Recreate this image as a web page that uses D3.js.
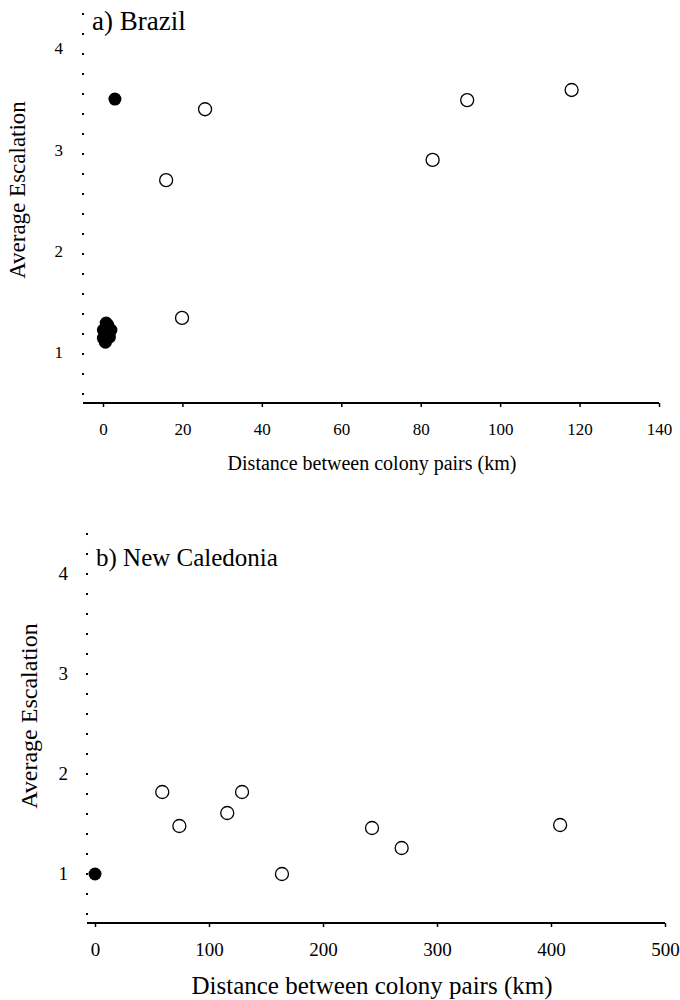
<!DOCTYPE html>
<html><head><meta charset="utf-8">
<script src="https://cdn.jsdelivr.net/npm/d3@7"></script>
<style>body{margin:0;background:#fff}svg{display:block}text{font-family:"Liberation Serif","DejaVu Serif",serif;fill:#000}</style>
</head><body><svg id="c" width="680" height="1000"></svg>
<script>
// Panel a: Brazil
const brazilSameDist = [3, 0.8, 0.1, 2.0, 0.1, 1.6, 0.6, 1.0, 1.2];
const brazilSameVal  = [3.5, 1.29, 1.22, 1.22, 1.14, 1.15, 1.1, 1.2, 1.27];
const brazilDiffDist = [25.7, 15.9, 83, 91.7, 118, 19.9];
const brazilDiffVal  = [3.4, 2.7, 2.9, 3.49, 3.59, 1.34];
const brazilXTicks = [0, 20, 40, 60, 80, 100, 120, 140];
// Panel b: New Caledonia
const ncSameDist = [0];
const ncSameVal  = [0.99];
const ncDiffDist = [59, 74, 129, 116, 164, 243, 269, 408];
const ncDiffVal  = [1.81, 1.47, 1.81, 1.6, 0.99, 1.45, 1.25, 1.48];
const ncXTicks = [0, 100, 200, 300, 400, 500];
const yTicks = [1, 2, 3, 4];

const svg = d3.select("#c");

function panel(cfg){
  const x = d3.scaleLinear().domain(cfg.xDomain).range(cfg.xRange);
  const y = d3.scaleLinear().domain(cfg.yDomain).range(cfg.yRange);
  const g = svg.append("g");
  g.append("line").attr("x1", cfg.yAxisX).attr("x2", cfg.yAxisX)
    .attr("y1", cfg.yRange[1]).attr("y2", cfg.yRange[0])
    .attr("stroke", "#000").attr("stroke-width", 2).attr("stroke-dasharray", "2,18");
  const ya = d3.axisLeft(y).tickValues(yTicks).tickSize(0).tickPadding(cfg.yAxisX - cfg.yLabelX).tickFormat(d3.format("d"));
  const yg = g.append("g").attr("transform", `translate(${cfg.yAxisX},0)`).call(ya);
  yg.select(".domain").remove();
  yg.selectAll("text").attr("font-size", cfg.tickFont).style("font-family", "Liberation Serif");
  const xa = d3.axisBottom(x).tickValues(cfg.xTicks).tickSize(4).tickPadding(cfg.xPad).tickSizeOuter(0).tickFormat(d3.format("d"));
  const xg = g.append("g").attr("transform", `translate(0,${cfg.yRange[0]})`).call(xa);
  xg.select(".domain").attr("d", `M${cfg.yAxisX},0H${cfg.xRange[1]}`).attr("stroke-width", 2);
  xg.selectAll(".tick line").attr("stroke-width", 1.5);
  xg.selectAll("text").attr("font-size", cfg.tickFont).style("font-family", "Liberation Serif");
  g.append("text").attr("x", cfg.titleX).attr("y", cfg.titleY).attr("font-size", cfg.titleFont).text(cfg.title);
  g.append("text").attr("x", 372).attr("y", cfg.xTitleY)
    .attr("text-anchor", "middle").attr("font-size", cfg.xTitleFont).text("Distance between colony pairs (km)");
  g.append("text").attr("transform", `translate(${cfg.yTitleX},${cfg.yTitleY}) rotate(-90)`)
    .attr("text-anchor", "middle").attr("font-size", cfg.yTitleFont).text("Average Escalation");
  g.selectAll("circle.diff").data(cfg.diffDist.map((d, i) => [d, cfg.diffVal[i]])).join("circle")
    .attr("class", "diff").attr("cx", d => x(d[0])).attr("cy", d => y(d[1])).attr("r", 6.5)
    .attr("fill", "#fff").attr("stroke", "#000").attr("stroke-width", 1.3);
  g.selectAll("circle.same").data(cfg.sameDist.map((d, i) => [d, cfg.sameVal[i]])).join("circle")
    .attr("class", "same").attr("cx", d => x(d[0])).attr("cy", d => y(d[1])).attr("r", 6.5)
    .attr("fill", "#000");
}

panel({xDomain: [0, 140], xRange: [103, 659], yDomain: [0.5, 4.35], yRange: [403, 13],
  xTicks: brazilXTicks, yAxisX: 83, yLabelX: 63, title: "a) Brazil", titleX: 92, titleY: 30, titleFont: 27,
  tickFont: 17, xPad: 16, xTitleFont: 20, xTitleY: 470, yTitleX: 25, yTitleY: 190, yTitleFont: 23,
  sameDist: brazilSameDist, sameVal: brazilSameVal, diffDist: brazilDiffDist, diffVal: brazilDiffVal});

panel({xDomain: [0, 500], xRange: [95, 665], yDomain: [0.5, 4.4], yRange: [923, 533],
  xTicks: ncXTicks, yAxisX: 87, yLabelX: 68, title: "b) New Caledonia", titleX: 96, titleY: 566, titleFont: 25,
  tickFont: 19, xPad: 16, xTitleFont: 25, xTitleY: 994, yTitleX: 37, yTitleY: 716, yTitleFont: 24,
  sameDist: ncSameDist, sameVal: ncSameVal, diffDist: ncDiffDist, diffVal: ncDiffVal});
</script></body></html>
